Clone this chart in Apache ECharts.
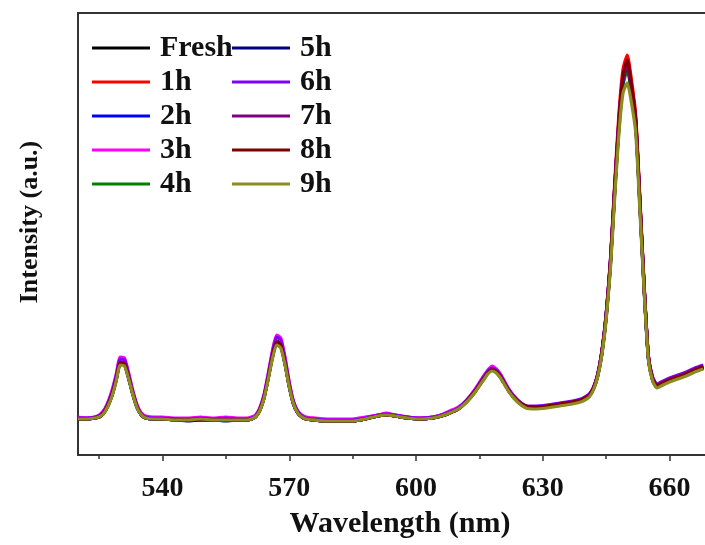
<!DOCTYPE html>
<html><head><meta charset="utf-8">
<script src="https://cdn.jsdelivr.net/npm/echarts@6/dist/echarts.min.js"></script>
<style>html,body{margin:0;padding:0;background:#fff}#c{width:705px;height:545px}</style>
</head><body><div id="c"></div>
<script>
const wavelengths = [520,522,524,525,526,527,528,529,530,531,
532,533,534,535,536,538,540,543,546,549,
552,555,558,560,561,562,563,564,565,566,
567,568,569,570,571,572,573,574,576,579,
582,585,588,591,593,595,598,601,604,606,
608,610,612,614,616,617,618,619,620,622,
624,626,628,631,634,637,639,640,641,642,
643,644,645,646,647,648,649,650,651,652,
653,654,655,656,657,658,660,662,664,666,668];

const seriesNames = ['Fresh','1h','2h','3h','4h','5h','6h','7h','8h','9h'];
const seriesColors = ['#000000','#ff0000','#0000ff','#ff00ff','#008000','#000080','#8000ff','#800080','#800000','#8c8c20'];

const fresh = [37,36,37,39,42,49,60,76,93,92,
78,61,48,40,37,36,37,36,35,36,
36,35,36,35,36,39,45,58,78,100,
114,111,93,70,52,43,38,36,35,34,
35,34,36,39,41,39,37,36,37,39,
43,47,54,64,77,83,86,84,79,64,
54,48,47,48,50,52,54,56,59,67,
80,104,140,192,266,332,378,392,368,334,
252,168,98,75,68,70,74,77,80,84,87];
const h1 = [37,37,37,39,42,49,60,75,92,91,
77,61,48,41,38,37,36,36,36,36,
35,36,35,36,36,38,45,57,77,99,
113,110,92,69,52,43,38,37,36,35,
35,35,37,40,41,40,38,37,38,40,
43,47,54,64,76,83,86,84,79,65,
55,49,48,49,51,53,55,57,60,67,
80,103,140,194,270,340,386,400,375,340,
256,170,99,77,70,72,75,78,81,85,88];
const h2 = [36,36,37,38,42,49,59,75,92,91,
77,61,48,40,37,36,36,35,35,35,
35,35,35,35,36,38,45,57,77,98,
112,109,91,69,51,42,38,36,35,34,
34,34,36,39,40,39,37,36,37,39,
42,46,54,64,76,82,85,83,78,64,
54,48,47,48,50,52,54,56,59,66,
79,102,138,190,262,328,374,388,364,330,
250,166,97,75,68,70,74,77,80,84,87];
const h3 = [38,37,38,40,44,52,64,80,98,97,
82,64,50,42,39,38,38,37,37,38,
37,38,37,37,38,40,47,60,81,104,
120,117,98,73,54,44,40,38,37,36,
36,36,38,40,42,40,38,37,38,40,
44,48,55,66,79,85,89,86,81,66,
55,49,48,49,51,53,55,57,60,67,
80,103,139,192,264,330,376,390,366,332,
251,167,98,76,69,71,75,78,81,85,88];
const h4 = [36,36,37,38,41,48,59,74,91,90,
76,60,47,40,37,36,36,35,35,35,
35,35,35,35,36,38,44,57,76,97,
112,108,91,68,51,42,38,36,35,34,
34,34,36,39,40,39,37,36,37,39,
42,46,53,63,76,82,85,83,78,64,
54,48,47,48,50,52,54,56,59,66,
79,101,137,188,260,324,370,385,362,328,
248,165,96,75,68,70,74,77,80,84,87];
const h5 = [36,36,37,38,42,49,59,75,92,91,
77,61,47,40,37,36,36,35,34,35,
35,34,35,35,36,38,45,57,77,98,
113,109,92,69,51,42,38,36,35,34,
34,34,36,39,40,39,37,36,37,39,
42,46,54,64,76,82,85,83,78,64,
54,48,47,48,50,52,54,56,59,66,
79,102,138,190,262,328,375,390,366,332,
250,166,97,76,69,71,75,78,81,85,88];
const h6 = [37,37,38,39,43,51,62,78,96,95,
80,63,49,41,38,37,37,36,36,37,
36,37,36,36,37,39,46,59,80,102,
118,115,96,72,53,44,39,37,36,35,
35,35,37,40,41,40,38,37,38,40,
43,47,55,65,78,84,87,85,80,65,
55,49,49,50,52,54,56,58,61,68,
81,104,141,194,266,334,380,393,369,335,
254,169,99,78,71,73,77,80,83,87,90];
const h7 = [36,36,37,38,42,49,60,75,93,92,
78,61,48,40,37,36,36,36,35,36,
35,35,35,35,36,38,45,57,77,99,
114,110,92,69,52,42,38,36,35,34,
34,34,36,39,40,39,37,36,37,39,
42,46,54,64,77,83,86,84,79,64,
54,48,48,49,51,53,55,57,60,67,
80,103,139,191,263,330,376,389,366,332,
251,167,98,77,70,72,76,79,82,86,89];
const h8 = [36,36,37,38,42,49,60,75,92,91,
77,61,48,40,37,36,36,35,35,36,
35,35,35,35,36,38,45,57,77,99,
113,110,92,69,51,42,38,36,35,34,
34,34,36,39,40,39,37,36,37,39,
42,46,54,64,76,82,85,83,78,64,
54,49,48,49,51,53,55,57,60,67,
80,103,139,192,265,333,380,395,370,336,
253,168,98,76,69,71,75,78,81,85,88];
const h9 = [36,36,37,38,41,48,58,73,90,89,
76,60,47,40,37,36,36,35,35,36,
35,35,35,35,36,38,44,56,75,96,
110,107,90,68,51,42,38,36,35,34,
34,34,36,39,40,39,37,36,37,39,
42,46,53,63,75,81,84,82,77,63,
53,47,46,47,49,51,53,55,58,65,
78,100,135,185,255,320,362,372,352,322,
243,163,95,74,67,69,73,76,79,83,86];

const majorTicks = [540,570,600,630,660];
const minorTicks = [525,555,585,615,645];
const xMin = 520, xMax = 668.4;

const allValues = [fresh,h1,h2,h3,h4,h5,h6,h7,h8,h9];
const serif = '"Liberation Serif","Times New Roman",serif';
const axisColor = '#333';

const chart = echarts.init(document.getElementById('c'));
const legendText = {fontFamily: serif, fontWeight: 'bold', fontSize: 30, color: '#111', lineHeight: 30, padding: [0,0,0,5]};
const legendBase = {orient: 'vertical', top: 33, padding: 0, itemWidth: 58, itemHeight: 3, itemGap: 4,
  icon: 'rect', textStyle: legendText};
chart.setOption({
  animation: false,
  backgroundColor: '#fff',
  grid: {left: 78, right: 0, top: 13, bottom: 90},
  legend: [
    Object.assign({left: 92, data: seriesNames.slice(0,5)}, legendBase),
    Object.assign({left: 232, data: seriesNames.slice(5)}, legendBase)
  ],
  xAxis: [
    {type: 'value', min: xMin, max: xMax, position: 'bottom',
     name: 'Wavelength (nm)', nameLocation: 'middle', nameGap: 54,
     nameTextStyle: {fontFamily: serif, fontWeight: 'bold', fontSize: 30, color: '#111', padding: [0,0,0,17]},
     axisLine: {show: true, lineStyle: {color: axisColor, width: 2}},
     axisTick: {show: true, inside: false, length: 6, customValues: majorTicks, lineStyle: {color: axisColor, width: 1.5}},
     axisLabel: {show: true, customValues: majorTicks, margin: 20, fontFamily: serif, fontWeight: 'bold', fontSize: 28, color: '#111'},
     splitLine: {show: false}},
    {type: 'value', min: xMin, max: xMax, position: 'bottom',
     axisLine: {show: false},
     axisTick: {show: true, length: 4, customValues: minorTicks, lineStyle: {color: axisColor, width: 1.5}},
     axisLabel: {show: false}, splitLine: {show: false}},
    {type: 'value', min: xMin, max: xMax, position: 'top',
     axisLine: {show: true, lineStyle: {color: axisColor, width: 2}},
     axisTick: {show: false}, axisLabel: {show: false}, splitLine: {show: false}}
  ],
  yAxis: {type: 'value', min: 0, max: 442,
    name: 'Intensity (a.u.)', nameLocation: 'middle', nameGap: 35,
    nameTextStyle: {fontFamily: serif, fontWeight: 'bold', fontSize: 26, color: '#111', padding: [0,0,0,24]},
    axisLine: {show: true, lineStyle: {color: axisColor, width: 2}},
    axisTick: {show: false}, axisLabel: {show: false}, splitLine: {show: false}},
  series: seriesNames.map((n, i) => ({
    name: n, type: 'line', xAxisIndex: 0, symbol: 'none', smooth: 0.2,
    color: seriesColors[i],
    lineStyle: {width: 3.2, color: seriesColors[i]},
    data: wavelengths.map((w, k) => [w, allValues[i][k]])
  }))
});
</script></body></html>
